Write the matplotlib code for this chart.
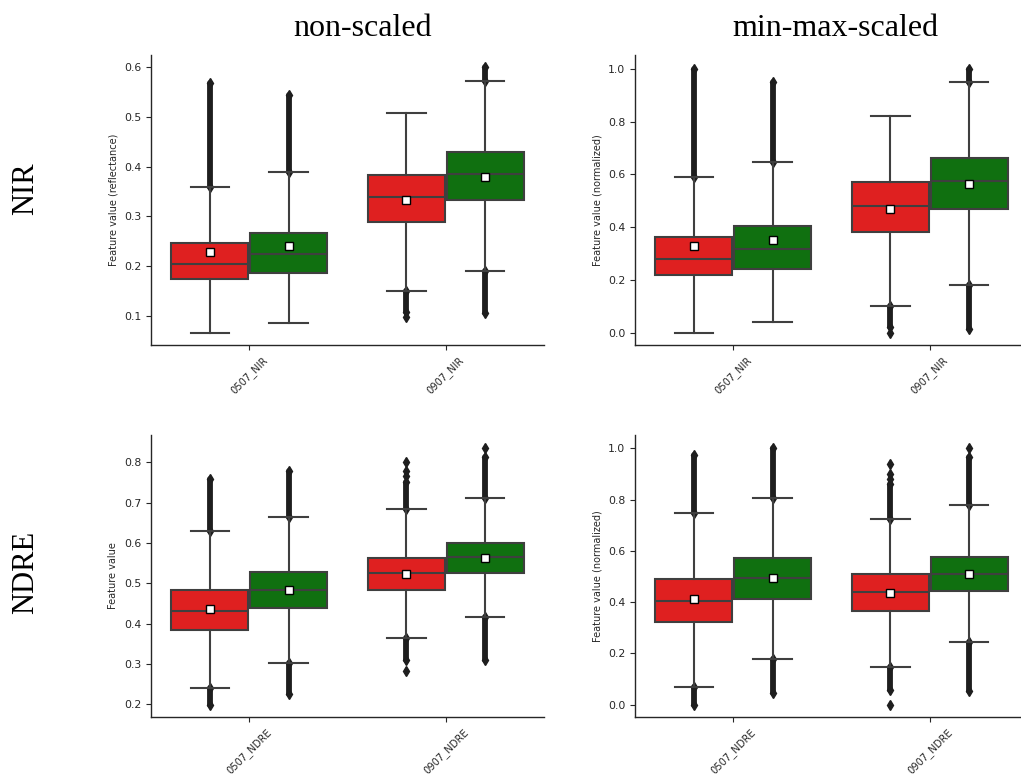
import numpy as np
import matplotlib
matplotlib.use("Agg")
import matplotlib.pyplot as plt
from matplotlib.ticker import MultipleLocator

# box order in every panel: red 0507, green 0507, red 0907, green 0907
col_titles = ["non-scaled", "min-max-scaled"]
row_titles = ["NIR", "NDRE"]
xlabels = [["0507_NIR", "0907_NIR"], ["0507_NDRE", "0907_NDRE"]]
ylabels = [["Feature value (reflectance)", "Feature value (normalized)"],
           ["Feature value", "Feature value (normalized)"]]

# panels: NIR raw, NIR scaled, NDRE raw, NDRE scaled
q1 = [[0.173, 0.187, 0.289, 0.333],
      [0.217, 0.243, 0.383, 0.470],
      [0.385, 0.438, 0.483, 0.527],
      [0.323, 0.413, 0.365, 0.442]]
med = [[0.205, 0.224, 0.340, 0.386],
       [0.281, 0.318, 0.482, 0.575],
       [0.432, 0.483, 0.525, 0.565],
       [0.403, 0.494, 0.438, 0.510]]
q3 = [[0.247, 0.267, 0.383, 0.429],
      [0.362, 0.404, 0.570, 0.662],
      [0.483, 0.529, 0.563, 0.600],
      [0.492, 0.573, 0.509, 0.577]]
whis_lo = [[0.0645, 0.086, 0.150, 0.190],
           [0.0, 0.042, 0.101, 0.182],
           [0.240, 0.303, 0.364, 0.416],
           [0.070, 0.179, 0.147, 0.243]]
whis_hi = [[0.360, 0.389, 0.509, 0.572],
           [0.590, 0.648, 0.822, 0.951],
           [0.630, 0.664, 0.684, 0.712],
           [0.747, 0.806, 0.726, 0.778]]
means = [[0.229, 0.240, 0.334, 0.379],
         [0.329, 0.351, 0.470, 0.564],
         [0.436, 0.485, 0.524, 0.564],
         [0.412, 0.496, 0.436, 0.510]]

# dense runs of outliers (from, to) and lone outliers
flier_runs = [
    [[(0.360, 0.568)], [(0.389, 0.544)], [(0.108, 0.150)], [(0.572, 0.601), (0.105, 0.190)]],
    [[(0.590, 1.0)], [(0.648, 0.952)], [(0.02, 0.101)], [(0.951, 1.0), (0.013, 0.182)]],
    [[(0.630, 0.760), (0.198, 0.240)], [(0.664, 0.779), (0.226, 0.303)],
     [(0.684, 0.752), (0.311, 0.364)], [(0.712, 0.814), (0.311, 0.416)]],
    [[(0.747, 0.974), (0.0, 0.070)], [(0.806, 1.0), (0.045, 0.179)],
     [(0.726, 0.86), (0.058, 0.147)], [(0.778, 0.968), (0.055, 0.243)]],
]
flier_points = [
    [[], [], [0.098], []],
    [[], [], [0.0], []],
    [[], [], [0.767, 0.779, 0.802, 0.283], [0.837]],
    [[], [], [0.88, 0.90, 0.94, 0.0], [1.0]],
]

ylims = [(0.041, 0.625), (-0.047, 1.053), (0.169, 0.868), (-0.048, 1.052)]
ysteps = [0.1, 0.2, 0.1, 0.2]

colors = ["#df2020", "#107010", "#df2020", "#107010"]
positions = [-0.2, 0.2, 0.8, 1.2]
edge = "#3f3f3f"
text_col = "#262626"
flier_col = "#1e1e1e"

fig = plt.figure(figsize=(10.21, 7.74), dpi=100)
W, H = 1021, 774
# left, top, right, bottom in pixels
boxes_px = [(151, 55, 544, 345), (635, 55, 1028, 345),
            (151, 435, 544, 717), (635, 435, 1028, 717)]

for p in range(4):
    l, t, r, b = boxes_px[p]
    ax = fig.add_axes([l / W, 1 - b / H, (r - l) / W, (b - t) / H])
    stats = []
    for i in range(4):
        stats.append(dict(med=med[p][i], q1=q1[p][i], q3=q3[p][i],
                          whislo=whis_lo[p][i], whishi=whis_hi[p][i],
                          mean=means[p][i], fliers=[]))
    bp = ax.bxp(stats, positions=positions, widths=0.392, patch_artist=True,
                showmeans=True, showfliers=False,
                boxprops=dict(edgecolor=edge, linewidth=1.5),
                medianprops=dict(color=edge, linewidth=1.5),
                whiskerprops=dict(color=edge, linewidth=1.5),
                capprops=dict(color=edge, linewidth=1.5),
                meanprops=dict(marker="s", markerfacecolor="white",
                               markeredgecolor="black", markersize=6.2,
                               markeredgewidth=1.0),
                manage_ticks=False, zorder=2)
    for patch, c in zip(bp["boxes"], colors):
        patch.set_facecolor(c)
    # outliers
    for i in range(4):
        x = positions[i]
        for lo, hi in flier_runs[p][i]:
            ax.plot([x, x], [lo, hi], color=flier_col, lw=4.2,
                    solid_capstyle="round", zorder=1)
            ax.plot([x, x], [lo, hi], ls="none", marker="d", color=flier_col,
                    markersize=5.5, zorder=1)
        if flier_points[p][i]:
            ax.plot([x] * len(flier_points[p][i]), flier_points[p][i], ls="none",
                    marker="d", color=flier_col, markersize=5.5, zorder=1)

    ax.set_xlim(-0.5, 1.5)
    ax.set_ylim(*ylims[p])
    ax.yaxis.set_major_locator(MultipleLocator(ysteps[p]))
    ax.set_xticks([0, 1])
    ax.set_xticklabels(xlabels[p // 2], rotation=45, fontsize=7.2, color=text_col)
    ax.set_ylabel(ylabels[p // 2][p % 2], fontsize=7.0, color=text_col)
    ax.tick_params(axis="y", labelsize=7.8, labelcolor=text_col, color=text_col)
    ax.tick_params(axis="x", color=text_col)
    for s in ["top", "right"]:
        ax.spines[s].set_visible(False)
    for s in ["left", "bottom"]:
        ax.spines[s].set_color(text_col)
        ax.spines[s].set_linewidth(1.0)

serif = ["Liberation Serif", "DejaVu Serif"]
fig.text(363 / W, 1 - 28 / H, col_titles[0], ha="center", va="center",
         fontsize=23, family=serif)
fig.text(835 / W, 1 - 28 / H, col_titles[1], ha="center", va="center",
         fontsize=23, family=serif)
fig.text(26 / W, 1 - 189 / H, row_titles[0], ha="center", va="center",
         rotation=90, fontsize=22, family=serif)
fig.text(26 / W, 1 - 572 / H, row_titles[1], ha="center", va="center",
         rotation=90, fontsize=22, family=serif)

fig.savefig("out.png", dpi=100)
